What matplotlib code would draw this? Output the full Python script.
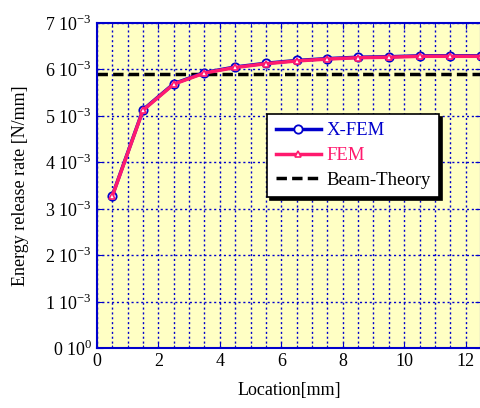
import numpy as np
import matplotlib.pyplot as plt
from matplotlib.ticker import MultipleLocator, FixedLocator

plt.rcParams['font.family'] = ['Liberation Serif', 'DejaVu Serif']
plt.rcParams['mathtext.fontset'] = 'custom'
plt.rcParams['mathtext.rm'] = 'Liberation Serif'

# data
location = [0.5, 1.5, 2.5, 3.5, 4.5, 5.5, 6.5, 7.5, 8.5, 9.5, 10.5, 11.5, 12.5]
xfem = [3.28e-3, 5.13e-3, 5.69e-3, 5.93e-3, 6.05e-3, 6.13e-3, 6.19e-3, 6.23e-3,
        6.26e-3, 6.27e-3, 6.29e-3, 6.29e-3, 6.29e-3]
fem = [3.27e-3, 5.12e-3, 5.68e-3, 5.92e-3, 6.04e-3, 6.12e-3, 6.18e-3, 6.22e-3,
       6.25e-3, 6.26e-3, 6.28e-3, 6.28e-3, 6.28e-3]
beam_theory = 5.9e-3

ytick_vals = [0, 1e-3, 2e-3, 3e-3, 4e-3, 5e-3, 6e-3, 7e-3]
ytick_labels = [r'0 10$^{0}$'] + [r'%d 10$^{-3}$' % i for i in range(1, 8)]

blue = '#0000cc'
pink = '#ff1a6e'

fig = plt.figure(figsize=(4.8, 4.08), dpi=100)
ax = fig.add_axes([0.202, 0.147, 0.8, 0.797])
ax.set_facecolor('#ffffc4')

ax.plot(location, xfem, color=blue, lw=2.5, marker='o', ms=6, mfc='white',
        mec=blue, mew=1.3, label='X-FEM', zorder=3)
ax.plot(location, fem, color=pink, lw=2.5, marker='^', ms=5, mfc='white',
        mec=pink, mew=1.2, label='FEM', zorder=4)
ax.axhline(beam_theory, color='black', lw=2.5, ls=(0, (3, 1.5)),
           label='Beam-Theory', zorder=2)

ax.set_xlim(0, 12.5)
ax.set_ylim(0, 7e-3)
ax.xaxis.set_major_locator(MultipleLocator(2))
ax.xaxis.set_minor_locator(MultipleLocator(0.5))
ax.yaxis.set_major_locator(FixedLocator(ytick_vals))
ax.set_yticklabels(ytick_labels)

ax.grid(True, which='both', axis='x', color=blue, ls=(0, (1.5, 2)), lw=1)
ax.grid(True, which='major', axis='y', color=blue, ls=(0, (1.5, 2)), lw=1)
ax.tick_params(which='both', direction='in', color=blue, labelsize=13,
               top=True, right=True)
ax.tick_params(which='major', length=4)
ax.tick_params(which='minor', length=2)
for s in ax.spines.values():
    s.set_color(blue)
    s.set_linewidth(1.5)

ax.set_xlabel('Location[mm]', fontsize=13, labelpad=9)
ax.set_ylabel('Energy release rate [N/mm]', fontsize=13, labelpad=12)

leg = ax.legend(loc='upper left', bbox_to_anchor=(0.443, 0.72), fontsize=13.5,
                frameon=True, fancybox=False,
                shadow={'color': 'black', 'alpha': 1}, handlelength=2.4,
                borderpad=0.45, labelspacing=0.4, handletextpad=0.3,
                borderaxespad=0)
leg.get_frame().set_edgecolor('black')
leg.get_frame().set_linewidth(1.2)
for t, c in zip(leg.get_texts(), [blue, pink, 'black']):
    t.set_color(c)

fig.savefig('out.png', dpi=100)
